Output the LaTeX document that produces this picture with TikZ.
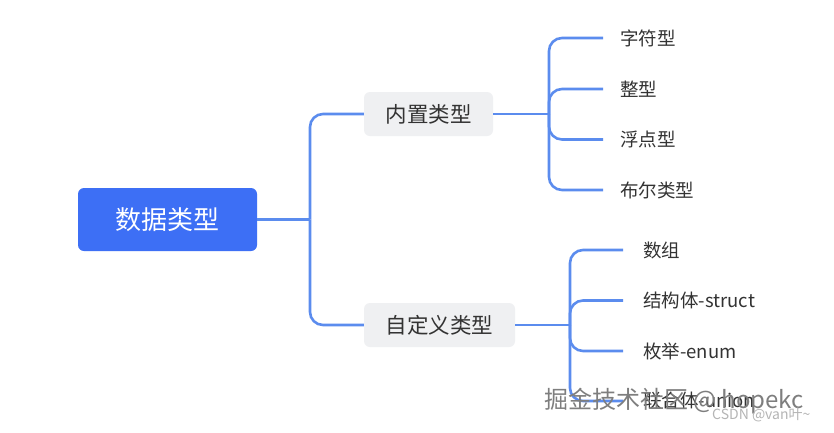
\documentclass[tikz,border=0pt]{standalone}
\usepackage{fontspec}
\setmainfont{Noto Sans CJK SC}
\definecolor{rootblue}{HTML}{3D6FF5}
\definecolor{linkblue}{HTML}{5B8CEE}
\definecolor{boxgray}{HTML}{EFF0F2}
\definecolor{txt}{HTML}{333333}
\definecolor{wm}{HTML}{7E7E7E}
\definecolor{wm2}{HTML}{B5B5B5}
\tikzset{
  rootbox/.style={draw=none, fill=rootblue, rounded corners=6pt, minimum width=179pt, minimum height=63pt, text=white, font=\fontsize{26}{30}\selectfont, inner sep=0pt},
  midbox/.style={draw=none, fill=boxgray, rounded corners=6pt, minimum height=44pt, text=txt, font=\fontsize{21.5}{25}\selectfont, inner sep=0pt},
  leaf/.style={anchor=west, text=txt, font=\fontsize{18.5}{22}\selectfont, inner xsep=17pt, inner ysep=0pt},
  conn/.style={draw=linkblue, line width=2.6pt, rounded corners=13pt},
}
\begin{document}
\begin{tikzpicture}[x=1pt,y=-1pt]
\useasboundingbox (0,0) rectangle (834,432);
\fill[white] (0,0) rectangle (834,432);

\node[rootbox] (root) at (167.5,219.5) {数据类型};
\node[midbox, minimum width=129pt] (n1) at (428.5,114) {内置类型};
\node[midbox, minimum width=151pt] (n2) at (439.5,325) {自定义类型};

\coordinate (j0) at (310,219.5);
\coordinate (j1) at (549,114);
\coordinate (j2) at (570,325);

\node[leaf] (a1) at (603,38) {字符型};
\node[leaf] (a2) at (603,89) {整型};
\node[leaf] (a3) at (603,139.5) {浮点型};
\node[leaf] (a4) at (603,190) {布尔类型};

\node[leaf, inner xsep=20pt] (b1) at (623,250) {数组};
\node[leaf, inner xsep=20pt] (b2) at (623,300.5) {结构体-struct};
\node[leaf, inner xsep=20pt] (b3) at (623,351) {枚举-enum};
\node[leaf, inner xsep=20pt] (b4) at (623,401) {联合体-union};

\draw[conn] (root.east) -- (j0);
\draw[conn] (j0) |- (n1.west);
\draw[conn] (j0) |- (n2.west);

\draw[conn] (n1.east) -- (j1);
\foreach \c in {a1,a2,a3,a4} \draw[conn] (j1) |- (\c.west);

\draw[conn] (n2.east) -- (j2);
\foreach \c in {b1,b2,b3,b4} \draw[conn] (j2) |- (\c.west);

\node[anchor=west, text=wm, font=\fontsize{24}{28}\selectfont, inner sep=0pt] (wm1) at (544,401) {掘金技术社区 @ hopekc};
\node[anchor=west, text=wm2, font=\fontsize{14}{16}\selectfont, inner sep=0pt] (wm2) at (712,415) {CSDN @van叶\textasciitilde};
\end{tikzpicture}
\end{document}
